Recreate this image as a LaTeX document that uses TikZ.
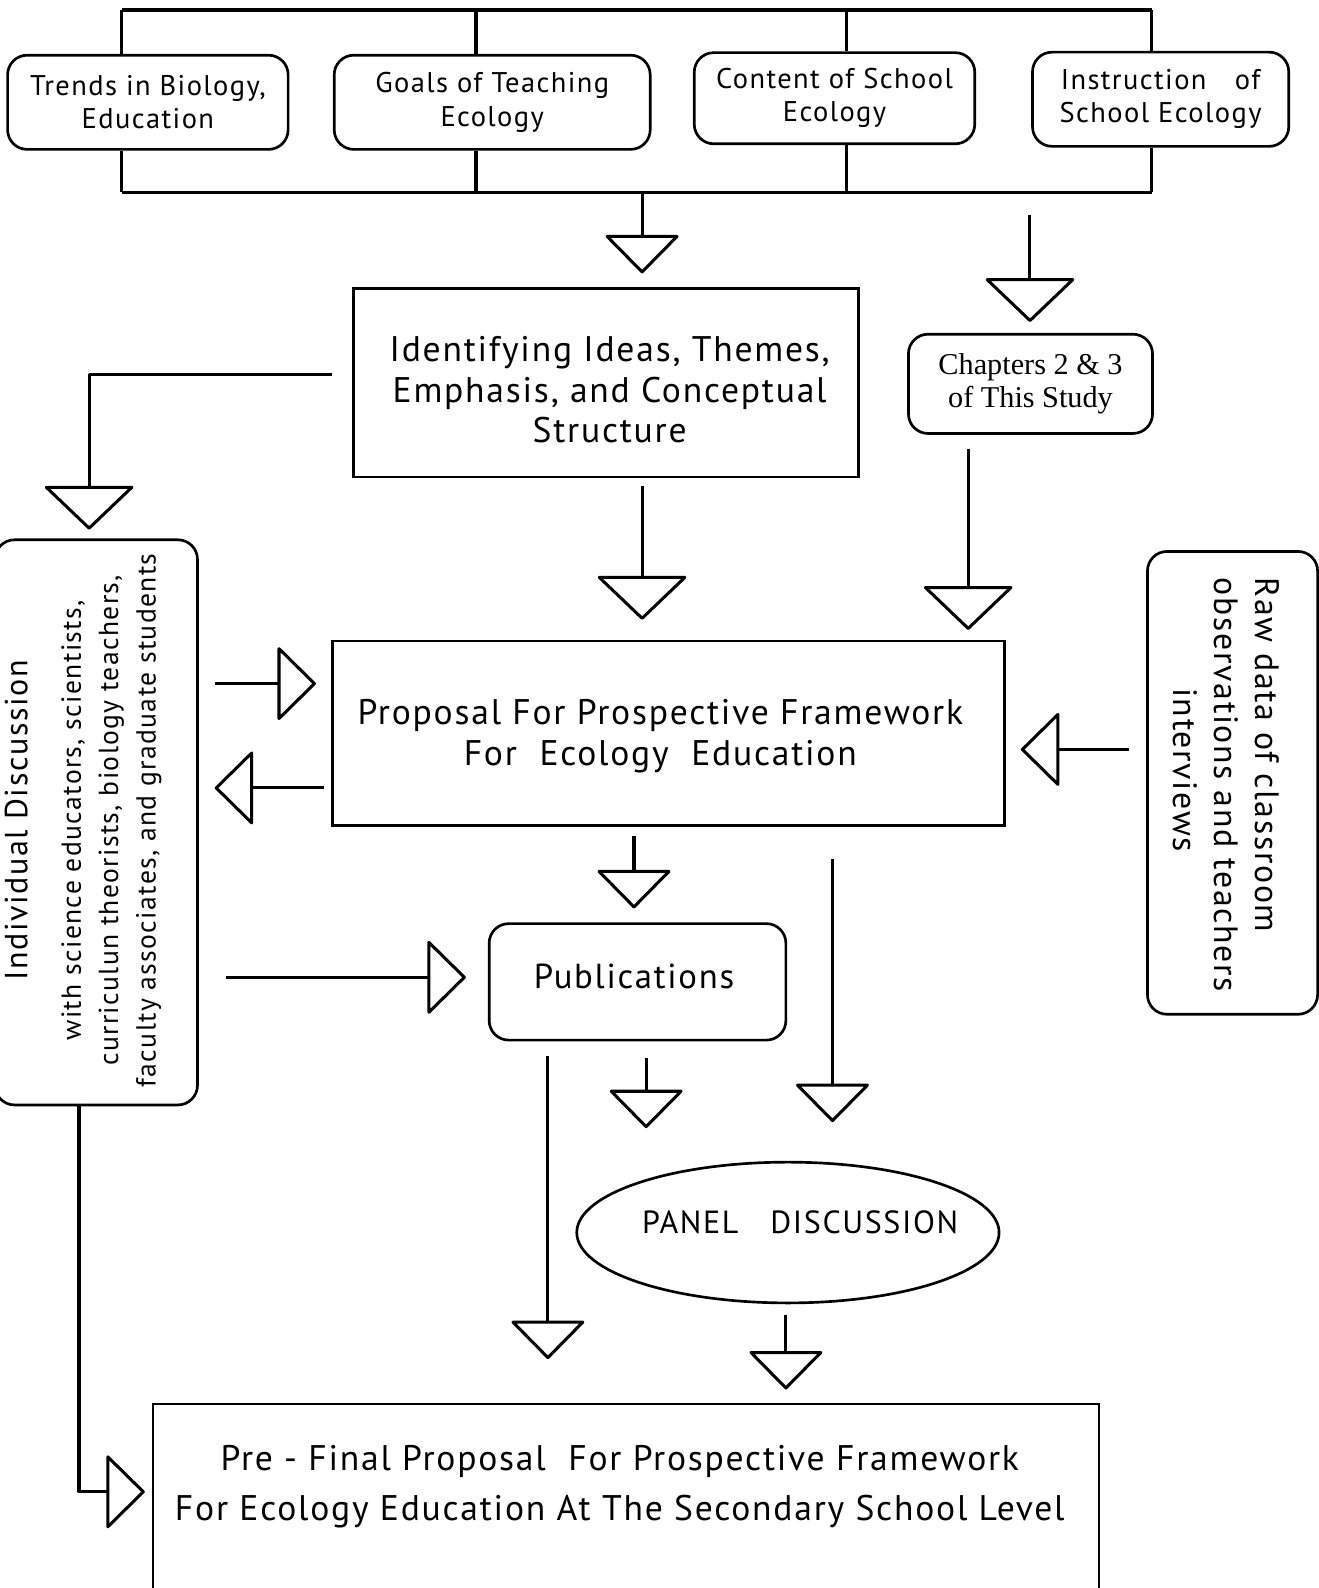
\documentclass[tikz,border=0pt]{standalone}
\usepackage{fontspec}
\setmainfont{PT Sans}[LetterSpace=5]
\newfontfamily\serifface{Liberation Serif}
\usetikzlibrary{arrows.meta,shapes.geometric}

% one drawing unit = 0.02cm
\newcommand{\upx}[1]{#1*0.02cm}

\begin{document}
\begin{tikzpicture}[x=0.02cm,y=-0.02cm,
  box/.style={draw, line width=1.5pt, align=center, inner sep=0pt},
  rbox/.style={box, rounded corners=11pt},
  frame/.style={line width=2pt},
  flow/.style={line width=1.7pt, line join=round,
    -{Triangle[open,length=22pt,width=43pt,round]}},
  flowbig/.style={line width=1.7pt, line join=round,
    -{Triangle[open,length=25pt,width=52pt,round]}},
  topfont/.style={font=\fontsize{16}{18.7}\selectfont},
  bigfont/.style={font=\fontsize{20}{22.7}\selectfont},
]
\useasboundingbox (0,0) rectangle (1302,1568);

% ---- four source topics joined by a frame ----
\node[rbox, topfont, minimum width=\upx{277}, minimum height=\upx{93}] (t1) at (146,101) {Trends in Biology,\\Education};
\node[rbox, topfont, minimum width=\upx{312}, minimum height=\upx{93}] (t2) at (486,101) {Goals of Teaching\\Ecology};
\node[rbox, topfont, minimum width=\upx{277}, minimum height=\upx{90}] (t3) at (824,97) {Content of School\\Ecology};
\node[rbox, topfont, minimum width=\upx{253}, minimum height=\upx{93}] (t4) at (1146,98) {Instruction\quad of\\School Ecology};

\coordinate (v1) at (120,10);
\coordinate (v2) at (470,10);
\coordinate (v3) at (836,10);
\coordinate (v4) at (1137,10);
\coordinate (w1) at (120,190);
\coordinate (w4) at (1137,190);
\draw[frame] (v1) -- (v4);
\draw[frame] (w1) -- (w4);
\draw[frame] (v1) -- (t1.north -| v1);
\draw[frame] (t1.south -| v1) -- (w1);
\draw[frame] (v2) -- (t2.north -| v2);
\draw[frame] (t2.south -| v2) -- (w1 -| v2);
\draw[frame] (v3) -- (t3.north -| v3);
\draw[frame] (t3.south -| v3) -- (w1 -| v3);
\draw[frame] (v4) -- (t4.north -| v4);
\draw[frame] (t4.south -| v4) -- (w4);

% ---- main boxes ----
\node[box, minimum width=\upx{499}, minimum height=\upx{186}] (ident) at (598.5,378) {};
\node[align=center, bigfont] (identtext) at (602,385)
  {Identifying Ideas, Themes,\\Emphasis, and Conceptual\\Structure};
\node[rbox, font=\serifface\fontsize{17}{18.5}\selectfont, minimum width=\upx{241}, minimum height=\upx{98}] (chap) at (1017.5,379)
  {Chapters 2 \& 3\\of This Study};
\node[box, minimum width=\upx{664}, minimum height=\upx{182}] (prop) at (660,724) {};
\node[align=center, bigfont] (proptext) at (652,727)
  {Proposal For Prospective Framework\\For\ \ Ecology\ \ Education};
\node[rbox, minimum width=\upx{293}, minimum height=\upx{115}] (pub) at (629.5,969.5) {};
\node[font=\fontsize{19.5}{22}\selectfont] (pubtext) at (626,964) {Publications};
\node[draw, line width=1.5pt, ellipse, inner sep=0pt,
  minimum width=\upx{417}, minimum height=\upx{139}] (panel) at (778,1217) {};
\node[font=\fontsize{18}{21}\selectfont] (paneltext) at (790,1207) {PANEL\quad DISCUSSION};

% side boxes with turned text
\node[rbox, minimum width=\upx{200}, minimum height=\upx{558}] (indiv) at (95,812) {};
\node[rotate=90, align=center, font=\fontsize{15.5}{21}\selectfont] (indivtext) at (82,810)
  {{\fontsize{18}{21}\selectfont Individual Discussion}\\[9pt]
   with science educators, scientists,\\
   curriculun theorists, biology teachers,\\
   faculty associates, and graduate students};
\node[rbox, minimum width=\upx{168}, minimum height=\upx{457}] (raw) at (1217,773) {};
\node[rotate=-90, align=left, font=\fontsize{19}{23}\selectfont] (rawtext) at (1211,775)
  {Raw data of classroom\\observations and teachers\\\hspace*{62pt}interviews};

% final box, open at the bottom of the page
\node[box, anchor=north, minimum width=\upx{934}, minimum height=\upx{260}] (final) at (618,1385) {};
\node[align=center, font=\fontsize{20}{28.3}\selectfont] (finaltext) at (612,1468)
  {Pre - Final Proposal\ \ For Prospective Framework\\For Ecology Education At The Secondary School Level};

% ---- arrows ----
\coordinate (a1s) at (634,190);  \coordinate (a1e) at (634,270);
\coordinate (a2s) at (1017,212); \coordinate (a2e) at (1017,318);
\coordinate (a3s) at (328,370);  \coordinate (a3m) at (88,370); \coordinate (a3e) at (88,523);
\coordinate (a4s) at (634,480);  \coordinate (a4e) at (634,612);
\coordinate (a5s) at (956,443);  \coordinate (a5e) at (956,622);
\coordinate (a6s) at (212,675);  \coordinate (a6e) at (312,675);
\coordinate (a7s) at (320,778);  \coordinate (a7e) at (212,778);
\coordinate (a8s) at (1115,740); \coordinate (a8e) at (1008,740);
\coordinate (a9s) at (626,825);  \coordinate (a9e) at (626,897);
\coordinate (a10s) at (223,965); \coordinate (a10e) at (460,965);
\coordinate (a11s) at (822,848); \coordinate (a11e) at (822,1108);
\coordinate (a12s) at (638,1045); \coordinate (a12e) at (638,1114);
\coordinate (a13s) at (541,1043); \coordinate (a13e) at (541,1342);
\coordinate (a14s) at (776,1298); \coordinate (a14e) at (776,1372);
\coordinate (a15s) at (78,1090); \coordinate (a15m) at (78,1473); \coordinate (a15e) at (143,1473);

\draw[flow] (a1s) -- (a1e);
\draw[flowbig] (a2s) -- (a2e);
\draw[flowbig] (a3s) -- (a3m) -- (a3e);
\draw[flowbig] (a4s) -- (a4e);
\draw[flowbig] (a5s) -- (a5e);
\draw[flow] (a6s) -- (a6e);
\draw[flow] (a7s) -- (a7e);
\draw[flow] (a8s) -- (a8e);
\draw[flow] (a9s) -- (a9e);
\draw[flow] (a10s) -- (a10e);
\draw[flow] (a11s) -- (a11e);
\draw[flow] (a12s) -- (a12e);
\draw[flow] (a13s) -- (a13e);
\draw[flow] (a14s) -- (a14e);
\draw[flow] (a15s) -- (a15m) -- (a15e);
\end{tikzpicture}
\end{document}
